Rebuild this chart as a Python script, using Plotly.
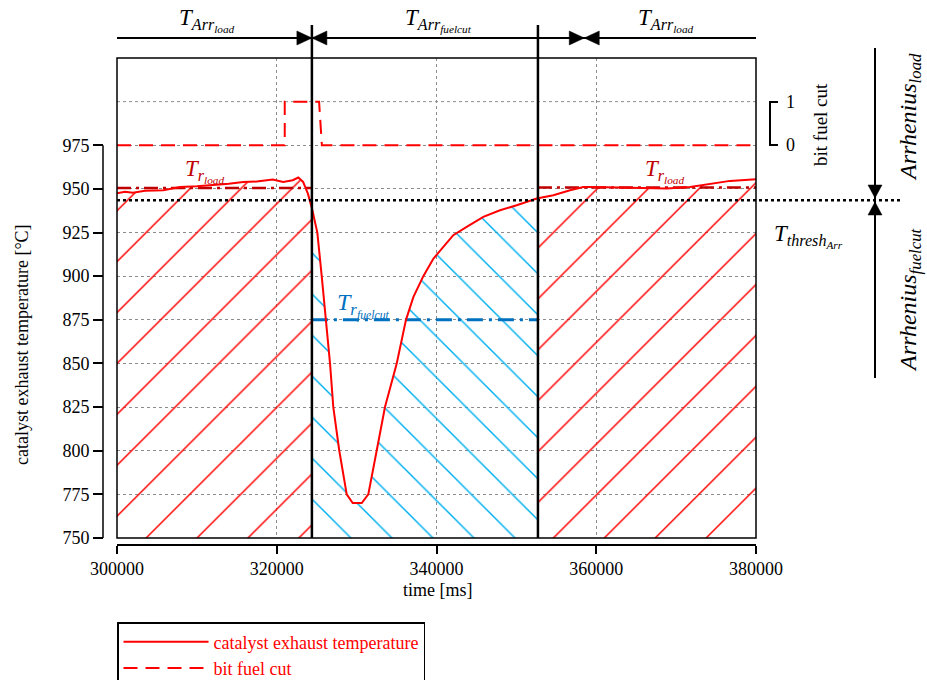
import numpy as np
import plotly.graph_objects as go

# ---------------------------------------------------------------------------
# Measured signals
# ---------------------------------------------------------------------------
time_ms = [300000, 301000, 302000, 303500, 305800, 307900, 310000, 312000,
           314000, 315800, 317500, 319500, 320800, 322000, 322700, 323300,
           323900, 324400, 325080, 325630, 326170, 326670, 327080, 327830,
           328760, 329510, 330640, 331460, 332510, 333550, 335020, 336180,
           337100, 338350, 339600, 340850, 342100, 343780, 345860, 347950,
           350040, 352550, 354630, 356720, 358380, 359630, 363810, 366730,
           368820, 371740, 374240, 376750, 380000]
temp_c = [947.5, 948.3, 947.8, 949.0, 949.2, 951.1, 951.5, 952.1,
          953.0, 954.0, 954.2, 955.4, 954.0, 955.0, 956.5, 954.0,
          947.3, 939.0, 925.0, 900.0, 875.0, 850.0, 825.0, 800.0,
          775.0, 770.0, 770.0, 775.0, 800.0, 825.0, 850.0, 875.0,
          888.0, 900.0, 910.0, 916.8, 923.5, 928.2, 934.0, 937.8,
          940.6, 944.5, 946.4, 949.2, 951.1, 951.1, 950.8, 950.2,
          950.2, 951.1, 953.0, 954.6, 955.5]

bit_time_ms = [300000, 321000, 321000, 325300, 325650, 380000]
bit_fuel_cut = [0, 0, 1, 1, 0, 0]

# phase boundaries: start and end of the fuel cut phase [ms]
phase_edges_ms = [324400, 352700]
# where the arrow pairs meet on the phase bar [ms]
arrow_meet_ms = [324400, 358500]

# representative temperatures [°C]
t_r_load = [950.5, 950.8]      # first / second load phase
t_r_fuelcut = 875.0
t_thresh_arr = 943.5

x_ticks = [300000, 320000, 340000, 360000, 380000]
y_ticks = [750, 775, 800, 825, 850, 875, 900, 925, 950, 975]

# the fuel cut bit is drawn on the temperature axis: 0 -> 975, 1 -> 1000
BIT_BASE, BIT_SPAN = 975, 25

# ---------------------------------------------------------------------------
# Layout geometry
# ---------------------------------------------------------------------------
W, H = 927, 680
ML, MR, MT, MB = 103, 171, 58, 135
PW, PH = W - ML - MR, H - MT - MB
X_DOM0 = 14 / PW
Y_DOM0 = 7 / PH
X_RANGE = [300000, 380000]
Y_RANGE = [750, 1025]


def paper_x(px):
    return (px - ML) / PW


def paper_y(py):
    return (H - MB - py) / PH


SERIF = "Liberation Serif"
RED = "#ff0000"
DARK_RED = "#c00000"
BLUE = "#0070c0"
LIGHT_BLUE = "#00b0f0"
GRID = "#8c8c8c"

t = np.array(time_ms, dtype=float)
y = np.array(temp_c, dtype=float)


def segment(a, b):
    inner = (t > a) & (t < b)
    xs = np.concatenate([[a], t[inner], [b]])
    ys = np.interp(xs, t, y)
    return xs, ys


fig = go.Figure()

# hatched areas under the temperature curve, one per phase
bounds = [X_RANGE[0]] + phase_edges_ms + [X_RANGE[1]]
styles = [("/", RED, 36, 0.04), ("\\", LIGHT_BLUE, 29, 0.05), ("/", RED, 36, 0.04)]
for (a, b), (shape, col, size, sol) in zip(zip(bounds[:-1], bounds[1:]), styles):
    xs, ys = segment(a, b)
    fig.add_trace(go.Scatter(
        x=xs, y=ys, mode="none", fill="tozeroy",
        fillcolor=col,
        fillpattern=dict(shape=shape, fgcolor=col, fgopacity=1,
                         bgcolor="rgba(255,255,255,0)",
                         size=size, solidity=sol),
        showlegend=False, hoverinfo="skip"))

# representative temperature levels
fig.add_trace(go.Scatter(
    x=[X_RANGE[0], phase_edges_ms[0]], y=[t_r_load[0]] * 2, mode="lines",
    line=dict(color=DARK_RED, width=2.5, dash="14px,5px,3px,5px"),
    showlegend=False, hoverinfo="skip"))
fig.add_trace(go.Scatter(
    x=[phase_edges_ms[1], X_RANGE[1]], y=[t_r_load[1]] * 2, mode="lines",
    line=dict(color=DARK_RED, width=2.5, dash="14px,5px,3px,5px"),
    showlegend=False, hoverinfo="skip"))
fig.add_trace(go.Scatter(
    x=phase_edges_ms, y=[t_r_fuelcut] * 2, mode="lines",
    line=dict(color=BLUE, width=3, dash="16px,6px,3px,6px"),
    showlegend=False, hoverinfo="skip"))

# signals
fig.add_trace(go.Scatter(
    x=time_ms, y=temp_c, mode="lines", name="catalyst exhaust temperature",
    line=dict(color=RED, width=2)))
fig.add_trace(go.Scatter(
    x=bit_time_ms, y=[BIT_BASE + BIT_SPAN * b for b in bit_fuel_cut],
    mode="lines", name="bit fuel cut",
    line=dict(color=RED, width=2, dash="14px,8px")))

shapes = []
# plot frame
shapes.append(dict(type="rect", xref="x domain", yref="y domain",
                   x0=0, x1=1, y0=0, y1=1, line=dict(color="black", width=1.5)))
# y axis line only over the temperature scale
shapes.append(dict(type="line", xref="paper", yref="y", x0=0, x1=0,
                   y0=y_ticks[0], y1=y_ticks[-1], line=dict(color="black", width=1.5)))
# grid line at bit = 1
shapes.append(dict(type="line", xref="x domain", yref="y", x0=0, x1=1,
                   y0=BIT_BASE + BIT_SPAN, y1=BIT_BASE + BIT_SPAN,
                   line=dict(color=GRID, width=1, dash="dot"), layer="below"))
# phase boundaries, extended up to the phase bar
for e in phase_edges_ms:
    shapes.append(dict(type="line", xref="x", yref="paper", x0=e, x1=e,
                       y0=Y_DOM0, y1=paper_y(25), line=dict(color="black", width=2.5)))
# phase bar
bar_y = paper_y(38)
shapes.append(dict(type="line", xref="x", yref="paper", x0=X_RANGE[0], x1=X_RANGE[1],
                   y0=bar_y, y1=bar_y, line=dict(color="black", width=2)))
ah_len = 15 * (X_RANGE[1] - X_RANGE[0]) / 639
ah_half = 7 / PH
for m in arrow_meet_ms:
    for sgn in (-1, 1):
        base = m + sgn * ah_len
        shapes.append(dict(
            type="path", xref="x", yref="paper",
            path=f"M{m},{bar_y} L{base},{bar_y + ah_half} L{base},{bar_y - ah_half} Z",
            fillcolor="black", line=dict(color="black", width=0.5)))
# threshold line, extended to the Arrhenius arrow
shapes.append(dict(type="line", xref="paper", yref="y", x0=X_DOM0, x1=paper_x(903),
                   y0=t_thresh_arr, y1=t_thresh_arr,
                   line=dict(color="black", width=2.5, dash="dot")))
# Arrhenius split arrow
ax_x = paper_x(875)
shapes.append(dict(type="line", xref="paper", yref="paper", x0=ax_x, x1=ax_x,
                   y0=paper_y(48), y1=paper_y(378), line=dict(color="black", width=2)))
hw = 7 / PW
for tip, base in ((198, 185), (202, 215)):
    shapes.append(dict(
        type="path", xref="paper", yref="paper",
        path=(f"M{ax_x},{paper_y(tip)} L{ax_x - hw},{paper_y(base)} "
              f"L{ax_x + hw},{paper_y(base)} Z"),
        fillcolor="black", line=dict(color="black", width=0.5)))
# scale bracket for the fuel cut bit
shapes.append(dict(
    type="path", xref="paper", yref="paper",
    path=(f"M{paper_x(778)},{paper_y(102)} L{paper_x(770)},{paper_y(102)} "
          f"L{paper_x(770)},{paper_y(145)} L{paper_x(778)},{paper_y(145)}"),
    line=dict(color="black", width=2)))


def ann(text, px, py, size=18, color="black", angle=0, **kw):
    return dict(text=text, xref="paper", yref="paper", x=paper_x(px), y=paper_y(py),
                xanchor="center", yanchor="middle", showarrow=False, textangle=angle,
                font=dict(family=SERIF, size=size, color=color), **kw)


T_ARR_LOAD = "<i>T</i><sub><i>Arr</i><sub><i>load</i></sub></sub>"
T_ARR_FC = "<i>T</i><sub><i>Arr</i><sub><i>fuelcut</i></sub></sub>"
annotations = [
    ann(T_ARR_LOAD, 207, 20, size=23),
    ann(T_ARR_FC, 438, 20, size=23),
    ann(T_ARR_LOAD, 666, 20, size=23),
    ann("<i>T</i><sub><i>r</i><sub><i>load</i></sub></sub>", 204, 171, size=23, color=DARK_RED),
    ann("<i>T</i><sub><i>r</i><sub><i>load</i></sub></sub>", 664, 171, size=23, color=DARK_RED),
    ann("<i>T</i><sub><i>r</i><sub><i>fuelcut</i></sub></sub>", 363, 305, size=24, color=BLUE),
    ann("<i>T</i><sub><i>thresh</i><sub><i>Arr</i></sub></sub>", 808, 236, size=23),
    ann("bit fuel cut", 821, 125, size=19, angle=-90),
    ann("1", 790, 102, size=18),
    ann("0", 790, 145, size=18),
    ann("<i>Arrhenius</i><sub><i>load</i></sub>", 910, 117, size=24, angle=-90),
    ann("<i>Arrhenius</i><sub><i>fuelcut</i></sub>", 910, 300, size=24, angle=-90),
    ann("catalyst exhaust temperature [°C]", 22, 345, size=18, angle=-90),
    ann("time [ms]", 438, 590, size=18),
]

fig.update_layout(
    width=W, height=H,
    margin=dict(l=ML, r=MR, t=MT, b=MB, autoexpand=False),
    paper_bgcolor="white", plot_bgcolor="white",
    font=dict(family=SERIF, size=18, color="black"),
    shapes=shapes, annotations=annotations,
    showlegend=True,
    legend=dict(x=paper_x(117), y=paper_y(622), xanchor="left", yanchor="top",
                bordercolor="black", borderwidth=1.5, bgcolor="white",
                font=dict(family=SERIF, size=18, color=RED),
                itemwidth=85, tracegroupgap=0),
)
fig.update_xaxes(
    domain=[X_DOM0, 1], range=X_RANGE, anchor="free", position=0,
    tickvals=x_ticks, ticktext=[str(v) for v in x_ticks],
    ticks="outside", ticklen=8, tickwidth=1.5, tickcolor="black",
    showline=True, linecolor="black", linewidth=1.5,
    showgrid=True, gridcolor=GRID, gridwidth=1, griddash="dot",
    zeroline=False, tickfont=dict(family=SERIF, size=18))
fig.update_yaxes(
    domain=[Y_DOM0, 1], range=Y_RANGE, anchor="free", position=0,
    tickvals=y_ticks, ticktext=[str(v) for v in y_ticks],
    ticks="outside", ticklen=10, tickwidth=1.5, tickcolor="black",
    showline=False,
    showgrid=True, gridcolor=GRID, gridwidth=1, griddash="dot",
    zeroline=False, tickfont=dict(family=SERIF, size=18))

fig.write_html("out.html")
